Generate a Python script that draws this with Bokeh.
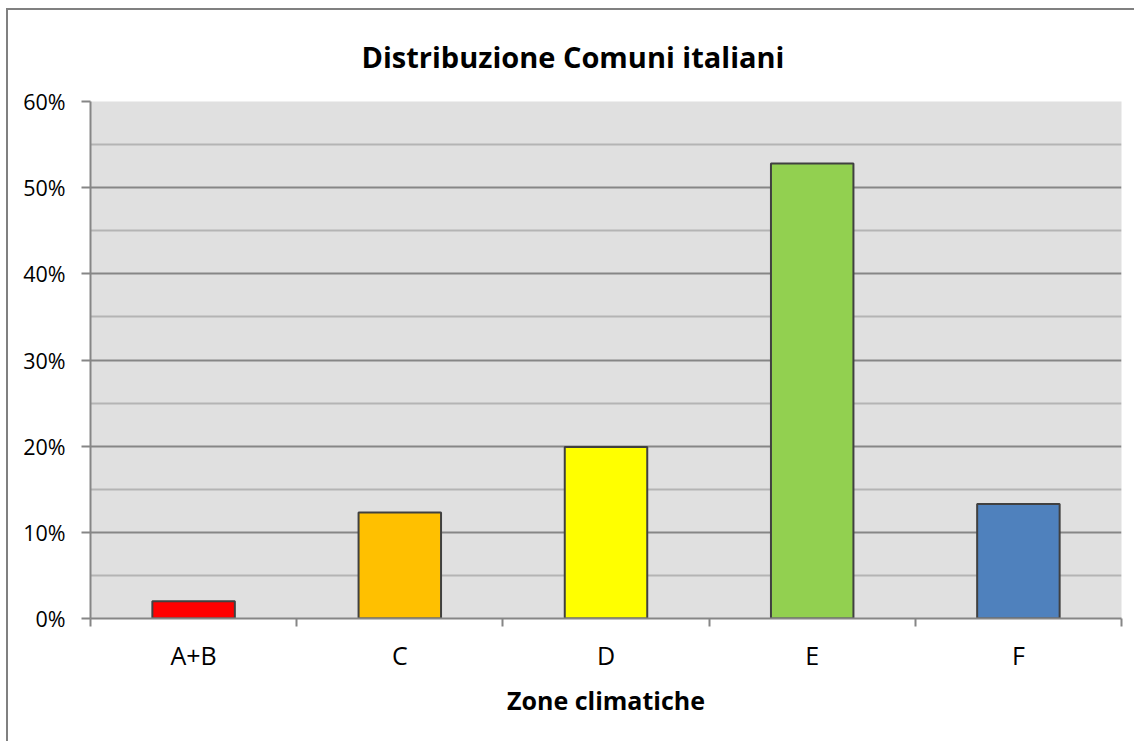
from bokeh.plotting import figure
from bokeh.models import Range1d, FixedTicker, NumeralTickFormatter, ColumnDataSource
from bokeh.embed import file_html
from bokeh.resources import INLINE

# ---- data ----
categories = ["A+B", "C", "D", "E", "F"]
shares = [0.020, 0.123, 0.199, 0.528, 0.133]
bar_colors = ["#ff0000", "#ffc000", "#ffff00", "#92d050", "#4f81bd"]
y_ticks = [0.0, 0.1, 0.2, 0.3, 0.4, 0.5, 0.6]
y_minor = [0.05, 0.15, 0.25, 0.35, 0.45, 0.55]
title_text = "Distribuzione Comuni italiani"
x_title = "Zone climatiche"

positions = list(range(1, len(categories) + 1))
source = ColumnDataSource(dict(x=positions, top=shares, color=bar_colors, cat=categories))

p = figure(width=1128, height=733, output_backend="svg", toolbar_location=None,
           x_range=Range1d(0.5, len(categories) + 0.5), y_range=Range1d(0, 0.6),
           min_border_left=82, min_border_right=15, min_border_top=91, min_border_bottom=125,
           background_fill_color="#e0e0e0", border_fill_color="white")
p.styles = {"margin-left": "6px", "margin-top": "8px",
            "border-left": "2px solid #808080", "border-top": "2px solid #808080"}
p.outline_line_color = None

p.vbar(x="x", top="top", width=0.4, fill_color="color", line_color="#404040",
       line_width=2, source=source)

# title
p.title.text = title_text
p.title.align = "left"
p.title.offset = 271
p.title.vertical_align = "middle"
p.title.text_font = "Open Sans"
p.title.text_font_style = "bold"
p.title.text_font_size = "29px"
p.title.text_color = "black"
p.title.standoff = 49

# y axis
ya = p.yaxis[0]
ya.ticker = FixedTicker(ticks=y_ticks, minor_ticks=y_minor)
ya.formatter = NumeralTickFormatter(format="0%")
ya.axis_line_color = "#868686"
ya.axis_line_width = 2
ya.major_tick_line_color = "#868686"
ya.major_tick_line_width = 2
ya.major_tick_out = 9
ya.major_tick_in = 0
ya.minor_tick_out = 0
ya.minor_tick_in = 0
ya.major_label_standoff = 16
ya.major_label_text_font = "Open Sans"
ya.major_label_text_font_size = "21.5px"
ya.major_label_text_color = "black"

# x axis
xa = p.xaxis[0]
boundaries = [i + 0.5 for i in range(len(categories) + 1)]
xa.ticker = FixedTicker(ticks=positions, minor_ticks=boundaries)
xa.major_label_overrides = {pos: cat for pos, cat in zip(positions, categories)}
xa.axis_line_color = "#868686"
xa.axis_line_width = 2
xa.major_tick_out = 0
xa.major_tick_in = 0
xa.minor_tick_out = 8
xa.minor_tick_in = 0
xa.minor_tick_line_color = "#868686"
xa.minor_tick_line_width = 2
xa.major_label_standoff = 11
xa.major_label_text_font = "Open Sans"
xa.major_label_text_font_size = "25px"
xa.major_label_text_color = "black"
xa.axis_label = x_title
xa.axis_label_text_font = "Open Sans"
xa.axis_label_text_font_style = "bold"
xa.axis_label_text_font_size = "25px"
xa.axis_label_text_color = "black"
xa.axis_label_standoff = 8

# grids
p.xgrid.grid_line_color = None
p.ygrid.ticker = FixedTicker(ticks=y_ticks, minor_ticks=y_minor)
p.ygrid.grid_line_color = "#868686"
p.ygrid.grid_line_width = 2
p.ygrid.minor_grid_line_color = "#b4b4b4"
p.ygrid.minor_grid_line_width = 2

open("out.html", "w").write(file_html(p, INLINE))
